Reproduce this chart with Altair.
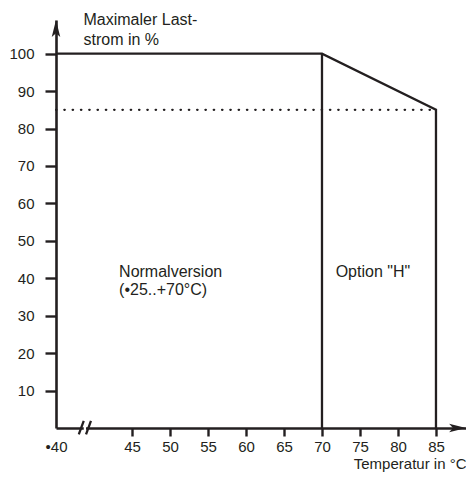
import altair as alt
import pandas as pd

# ---- data ----
X_MIN, X_MAX = 35, 88.95         # 35 stands for the broken-axis origin "•40"
Y_MIN, Y_MAX = 0, 109
x_tick_values = [35, 45, 50, 55, 60, 65, 70, 75, 80, 85]
y_tick_values = [10, 20, 30, 40, 50, 60, 70, 80, 90, 100]

curve_x = [35, 70, 85, 85]
curve_y = [100, 100, 85, 0]

split_x = [70]
split_y = [100]

dotted_level = [85]
dotted_x = [35]
dotted_x2 = [85]

notes_x = [43.3, 43.3, 71.8]
notes_y = [41.8, 37.0, 41.8]
notes_text = ["Normalversion", "(•25..+70°C)", 'Option "H"']

break_x = [38.0, 38.95]
break_x2 = [38.65, 39.6]
break_y = [-1.7, -1.7]
break_y2 = [1.9, 1.9]

arrow_x = [35, 87.85]
arrow_y = [106.7, 0]
arrow_angle = [0, 90]

INK = "#231f20"
FONT = "Liberation Sans"

xscale = alt.Scale(domain=[X_MIN, X_MAX], nice=False, zero=False)
yscale = alt.Scale(domain=[Y_MIN, Y_MAX], nice=False, zero=False)

X = alt.X(
    "x:Q",
    scale=xscale,
    axis=alt.Axis(
        values=x_tick_values,
        labelExpr="datum.value == 35 ? '•40' : datum.label",
        tickOpacity={"condition": {"test": "datum.value == 35", "value": 0}, "value": 1},
        tickSize=8,
        tickWidth=2.4,
        tickColor=INK,
        domainColor=INK,
        domainWidth=2.6,
        labelPadding=3,
        labelFontSize=15,
        labelFont=FONT,
        labelColor=INK,
        labelFlush=False,
        grid=False,
        title="Temperatur in °C",
        titleFont=FONT,
        titleFontSize=15,
        titleFontWeight="normal",
        titleColor=INK,
        titleAlign="right",
        titleAnchor="start",
        titleBaseline="middle",
        titleX=410,
        titleY=35,
    ),
)
Y = alt.Y(
    "y:Q",
    scale=yscale,
    axis=alt.Axis(
        values=y_tick_values,
        tickSize=11,
        tickWidth=2.4,
        tickColor=INK,
        domainColor=INK,
        domainWidth=2.6,
        labelPadding=11,
        labelFontSize=15,
        labelFont=FONT,
        labelColor=INK,
        grid=False,
        title=["Maximaler Last-", "strom in %"],
        titleFont=FONT,
        titleFontSize=16,
        titleFontWeight="normal",
        titleColor=INK,
        titleAngle=0,
        titleAlign="left",
        titleBaseline="middle",
        titleLineHeight=20,
        titleX=27,
        titleY=-1,
    ),
)

curve_df = pd.DataFrame({"x": curve_x, "y": curve_y, "o": range(len(curve_x))})
curve = alt.Chart(curve_df).mark_line(color=INK, strokeWidth=2.3, strokeJoin="miter").encode(
    x=X, y=Y, order="o:Q"
)

split_df = pd.DataFrame({"x": split_x, "y": split_y, "y0": [0] * len(split_x)})
split = alt.Chart(split_df).mark_rule(color=INK, strokeWidth=2.3).encode(
    x=alt.X("x:Q", scale=xscale), y=alt.Y("y:Q", scale=yscale), y2="y0:Q"
)

dotted_df = pd.DataFrame({"x": dotted_x, "x2": dotted_x2, "y": dotted_level})
dotted = alt.Chart(dotted_df).mark_rule(
    color=INK, strokeWidth=2.2, strokeDash=[0.5, 7.8], strokeCap="round"
).encode(x=alt.X("x:Q", scale=xscale), x2="x2:Q", y=alt.Y("y:Q", scale=yscale))

notes_df = pd.DataFrame({"x": notes_x, "y": notes_y, "t": notes_text})
notes = alt.Chart(notes_df).mark_text(
    align="left", baseline="middle", font=FONT, fontSize=16, color=INK
).encode(x=alt.X("x:Q", scale=xscale), y=alt.Y("y:Q", scale=yscale), text="t:N")

gap_df = pd.DataFrame({"x": [break_x2[0]], "x2": [break_x[1]], "y": [0]})
gap = alt.Chart(gap_df).mark_rule(color="white", strokeWidth=4).encode(
    x=alt.X("x:Q", scale=xscale), x2="x2:Q", y=alt.Y("y:Q", scale=yscale)
)

break_df = pd.DataFrame({"x": break_x, "x2": break_x2, "y": break_y, "y2": break_y2})
breaks = alt.Chart(break_df).mark_rule(color=INK, strokeWidth=2.3).encode(
    x=alt.X("x:Q", scale=xscale), x2="x2:Q", y=alt.Y("y:Q", scale=yscale), y2="y2:Q"
)

arrow_df = pd.DataFrame({"x": arrow_x, "y": arrow_y, "a": arrow_angle})
arrows = alt.Chart(arrow_df).mark_point(
    shape="M0,-1L0.5,1L0,0.55L-0.5,1Z", filled=True, color=INK, opacity=1, size=289
).encode(
    x=alt.X("x:Q", scale=xscale),
    y=alt.Y("y:Q", scale=yscale),
    angle=alt.Angle("a:Q", scale=None),
)

chart = (
    alt.layer(curve, split, dotted, notes, gap, breaks, arrows)
    .properties(
        width=410,
        height=408,
        autosize=alt.AutoSizeParams(type="none"),
        padding={"left": 48, "top": 12, "right": 0, "bottom": 44},
        background="white",
    )
    .configure_view(stroke=None)
)

chart.save("out.html", embed_options={"renderer": "svg", "actions": False})
